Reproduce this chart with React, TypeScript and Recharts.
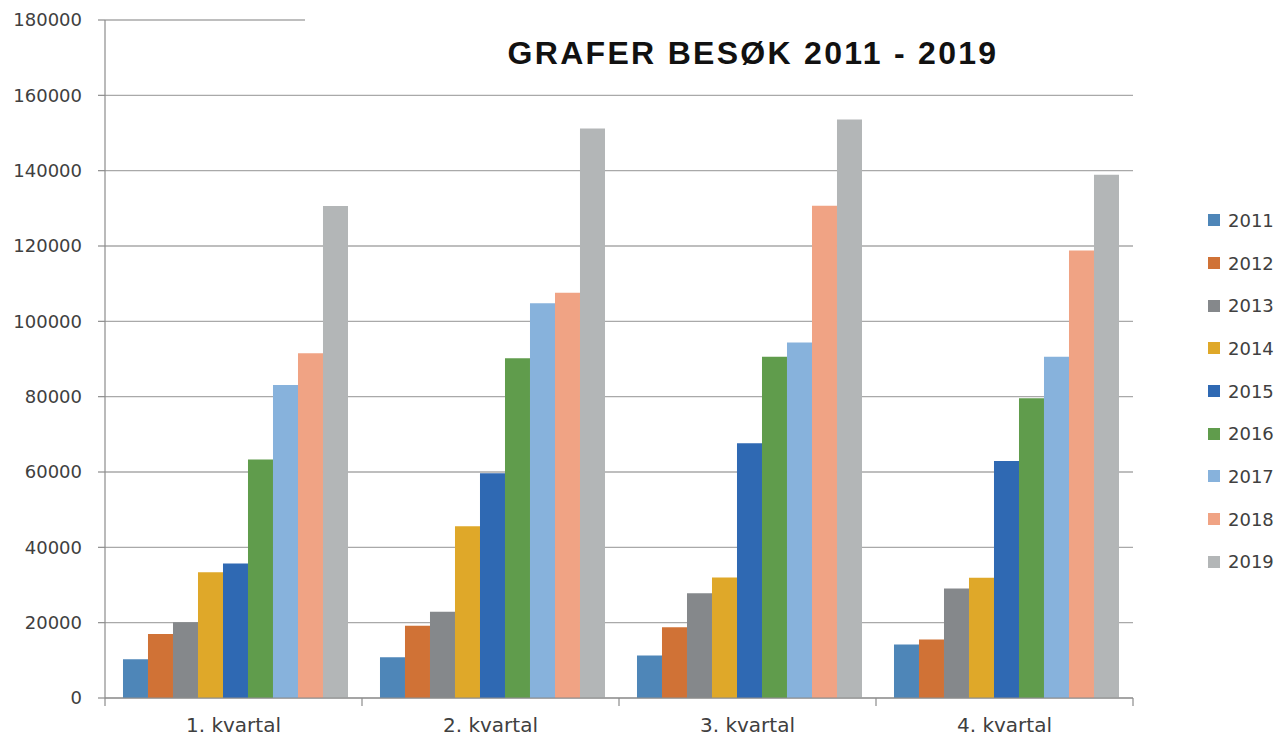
import React from 'react';
import { BarChart, Bar, XAxis, YAxis, CartesianGrid } from 'recharts';

const categories = ['1. kvartal', '2. kvartal', '3. kvartal', '4. kvartal'];
const years = ['2011', '2012', '2013', '2014', '2015', '2016', '2017', '2018', '2019'];
const v2011 = [10300, 10800, 11300, 14200];
const v2012 = [17000, 19200, 18800, 15500];
const v2013 = [20100, 22900, 27800, 29100];
const v2014 = [33400, 45600, 32000, 31900];
const v2015 = [35700, 59700, 67600, 62900];
const v2016 = [63300, 90200, 90600, 79600];
const v2017 = [83100, 104800, 94400, 90600];
const v2018 = [91500, 107600, 130700, 118800];
const v2019 = [130600, 151200, 153600, 138900];
const yTicks = [0, 20000, 40000, 60000, 80000, 100000, 120000, 140000, 160000, 180000];
const colors = ['#4e86b8', '#d07236', '#85888b', '#dfa829', '#2f69b3', '#609c4c', '#87b2dc', '#f0a384', '#b3b6b7'];
const title = 'GRAFER BESØK 2011 - 2019';

const seriesValues = [v2011, v2012, v2013, v2014, v2015, v2016, v2017, v2018, v2019];
const data = categories.map((c, i) => {
  const row: Record<string, string | number> = { name: c };
  years.forEach((y, j) => {
    row[y] = seriesValues[j][i];
  });
  return row;
});

const FONT = '"DejaVu Sans", sans-serif';
const TEXT = '#404040';
const HALF_BAND = (1133 - 105) / categories.length / 2;

const XTick = (props: any) => {
  const { x, y, payload, index } = props;
  const last = index === categories.length - 1;
  return (
    <g>
      <line x1={x - HALF_BAND} x2={x - HALF_BAND} y1={y} y2={y + 8} stroke="#8c8c8c" strokeWidth={1.2} />
      {last && <line x1={x + HALF_BAND} x2={x + HALF_BAND} y1={y} y2={y + 8} stroke="#8c8c8c" strokeWidth={1.2} />}
      <text x={x} y={y + 34} textAnchor="middle" fill={TEXT} fontSize={20} fontFamily={FONT}>
        {payload.value}
      </text>
    </g>
  );
};

export default function App() {
  return (
    <div style={{ position: 'absolute', left: 0, top: 0, width: 1286, height: 738, background: '#ffffff' }}>
      <BarChart
        width={1286}
        height={738}
        data={data}
        margin={{ top: 20, right: 153, bottom: 0, left: 0 }}
        barCategoryGap="7%"
        barGap={0}
      >
        <CartesianGrid horizontal vertical={false} stroke="#a9a9a9" strokeWidth={1.3} />
        <XAxis
          dataKey="name"
          height={40}
          tickLine={false}
          tickSize={0}
          tickMargin={0}
          axisLine={{ stroke: '#8c8c8c', strokeWidth: 1.2 }}
          tick={<XTick />}
          interval={0}
        />
        <YAxis
          width={105}
          domain={[0, 180000]}
          ticks={yTicks}
          interval={0}
          tickSize={7}
          tickMargin={16}
          tickLine={{ stroke: '#8c8c8c', strokeWidth: 1.2 }}
          axisLine={{ stroke: '#8c8c8c', strokeWidth: 1.2 }}
          tick={{ fill: TEXT, fontSize: 18, fontFamily: FONT }}
        />
        {years.map((y, i) => (
          <Bar key={y} dataKey={y} fill={colors[i]} isAnimationActive={false} />
        ))}
      </BarChart>
      <div style={{ position: 'absolute', left: 1208, top: 199, width: 80 }}>
        {years.map((y, i) => (
          <div key={y} style={{ display: 'flex', alignItems: 'center', height: 42.7 }}>
            <div style={{ width: 12, height: 12, background: colors[i], marginRight: 8 }} />
            <span style={{ fontFamily: FONT, fontSize: 18, color: TEXT }}>{y}</span>
          </div>
        ))}
      </div>
      <div
        style={{
          position: 'absolute',
          left: 305,
          top: 15,
          width: 896,
          height: 77,
          background: '#ffffff',
          display: 'flex',
          alignItems: 'center',
          justifyContent: 'center',
          fontFamily: '"Liberation Sans", Arial, sans-serif',
          fontWeight: 'bold',
          fontSize: 32,
          letterSpacing: 2.3,
          color: '#111111',
          whiteSpace: 'nowrap',
        }}
      >
        {title}
      </div>
    </div>
  );
}
